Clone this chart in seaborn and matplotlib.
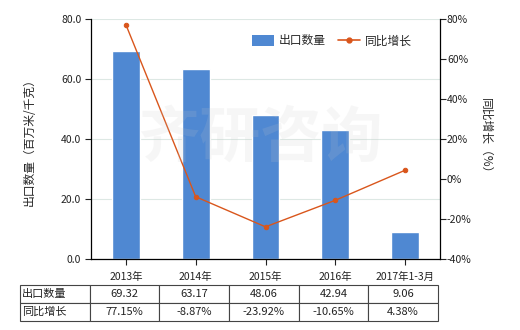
import matplotlib
matplotlib.use("Agg")
import matplotlib.pyplot as plt
import seaborn as sns
import pandas as pd
from matplotlib.patches import Patch
from matplotlib.lines import Line2D
from matplotlib.ticker import FuncFormatter

categories = ["2013年", "2014年", "2015年", "2016年", "2017年1-3月"]
export_qty = [69.32, 63.17, 48.06, 42.94, 9.06]
yoy_growth = [77.15, -8.87, -23.92, -10.65, 4.38]
series_names = ["出口数量", "同比增长"]

sns.set_theme(style="white")
plt.rcParams['font.family'] = ['Noto Sans CJK SC', 'DejaVu Sans']
plt.rcParams['axes.unicode_minus'] = False

bar_color = "#4F88D2"
line_color = "#D9561C"
fs = 7.5

df = pd.DataFrame({"cat": categories, "qty": export_qty, "yoy": yoy_growth})

fig = plt.figure(figsize=(5.2, 3.3), dpi=100)
W, H = 520, 330
ax = fig.add_axes([91 / W, 1 - 259 / H, (440 - 91) / W, (259 - 19) / H])

sns.barplot(data=df, x="cat", y="qty", ax=ax, color=bar_color, width=0.4,
            saturation=1, zorder=2)
ax.set_ylim(0, 80)
ax.set_yticks([0, 20, 40, 60, 80])
ax.yaxis.set_major_formatter(FuncFormatter(lambda v, p: f"{v:.1f}"))
ax.grid(axis="y", color="#DDE8E4", linewidth=0.8, zorder=0)
ax.set_axisbelow(True)
ax.set_xlabel("")
ax.set_ylabel("出口数量（百万米/千克）", fontsize=8.5, labelpad=18)
ax.tick_params(axis="both", labelsize=fs, length=4, width=0.8, direction="out",
               colors="#222222", left=True, bottom=True, pad=3)
ax.tick_params(axis="x", pad=5)
for s in ["left", "bottom"]:
    ax.spines[s].set_color("black")
    ax.spines[s].set_linewidth(0.9)
ax.spines["top"].set_visible(False)
ax.spines["right"].set_visible(False)

ax2 = ax.twinx()
sns.pointplot(data=df, x="cat", y="yoy", ax=ax2, color=line_color,
              markers="o", markersize=3.2, linewidth=1.0, zorder=5)
ax2.set_ylim(-40, 80)
ax2.set_yticks([-40, -20, 0, 20, 40, 60, 80])
ax2.yaxis.set_major_formatter(FuncFormatter(lambda v, p: f"{v:.0f}%"))
ax2.set_ylabel("同比增长（%）", fontsize=8.5, rotation=270, labelpad=15)
ax2.tick_params(axis="y", labelsize=fs, length=4, width=0.8, direction="out",
                colors="#222222", right=True, pad=1)
ax2.spines["right"].set_color("black")
ax2.spines["right"].set_linewidth(0.9)
for s in ["top", "left", "bottom"]:
    ax2.spines[s].set_visible(False)
ax2.set_xlim(-0.5, len(categories) - 0.5)
ax.set_xlim(-0.5, len(categories) - 0.5)
ax2.set_xlabel("")

handles = [Patch(facecolor=bar_color, edgecolor="none"),
           Line2D([0], [0], color=line_color, marker="o", markersize=3.5, linewidth=1.2)]
ax.legend(handles, series_names, loc="upper right", bbox_to_anchor=(0.95, 0.98),
          ncol=2, frameon=False, fontsize=8.5, handlelength=1.85, handleheight=1.1,
          columnspacing=1.0, handletextpad=0.45)

fig.text(0.5, 0.58, "齐研咨询", fontsize=44, color="#c8c8c8", alpha=0.15,
         ha="center", va="center", fontweight="bold", rotation=0, zorder=10)

# data table
tax = fig.add_axes([20 / W, 1 - 321 / H, (438 - 20) / W, (321 - 285) / H])
tax.axis("off")
cell_text = [[series_names[0]] + [f"{v:.2f}" for v in export_qty],
             [series_names[1]] + [f"{v:.2f}%" for v in yoy_growth]]
tbl = tax.table(cellText=cell_text, bbox=[0, 0, 1, 1], cellLoc="center")
tbl.auto_set_font_size(False)
for (r, c), cell in tbl.get_celld().items():
    cell.set_edgecolor("#444444")
    cell.set_linewidth(0.8)
    cell.get_text().set_fontsize(fs + 0.5)
    cell.get_text().set_color("#222222")
    if c == 0:
        cell.get_text().set_ha("left")
        cell._loc = "left"
        cell.PAD = 0.03

fig.savefig("out.png", dpi=100)
